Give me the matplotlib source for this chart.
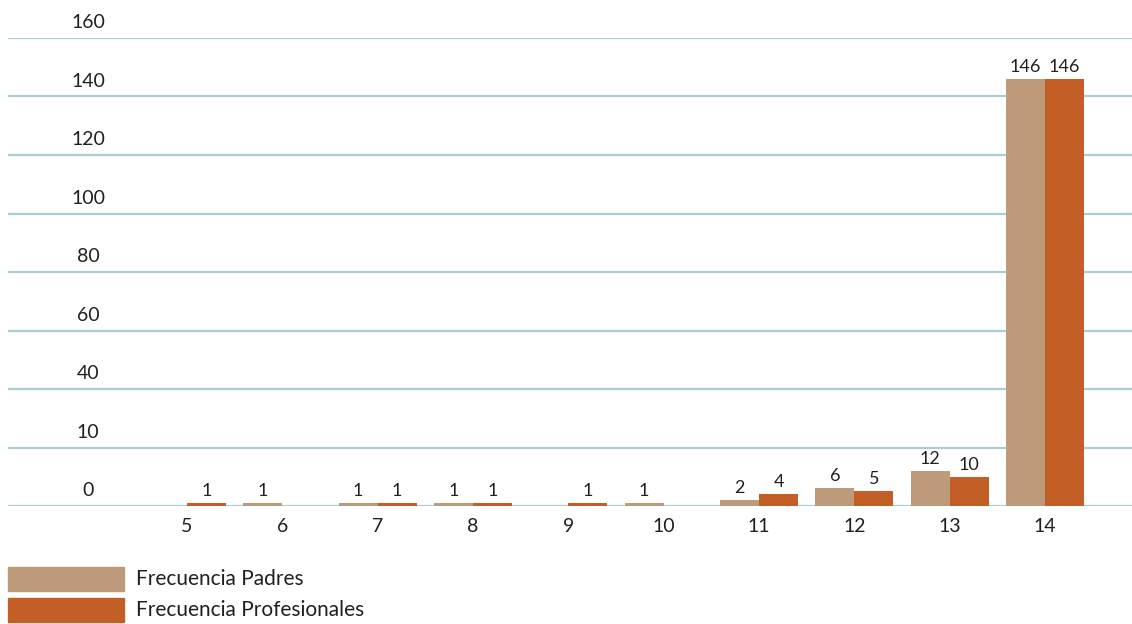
import matplotlib
matplotlib.use("Agg")
import matplotlib.pyplot as plt
import matplotlib.transforms as mtransforms
from matplotlib.patches import Rectangle
import numpy as np

categories = ["5", "6", "7", "8", "9", "10", "11", "12", "13", "14"]
padres = [0, 1, 1, 1, 0, 1, 2, 6, 12, 146]
profesionales = [1, 0, 1, 1, 1, 0, 4, 5, 10, 146]
ytick_values = [0, 20, 40, 60, 80, 100, 120, 140, 160]
ytick_labels = ["0", "10", "40", "60", "80", "100", "120", "140", "160"]
series_names = ["Frecuencia Padres", "Frecuencia Profesionales"]

c_padres = "#BD9B7A"
c_prof = "#C45E27"
grid_c = "#A8CFD6"
txt_c = "#231F20"

plt.rcParams["font.family"] = ["Lato", "DejaVu Sans"]

W, H = 1132, 624
fig = plt.figure(figsize=(W / 100, H / 100), dpi=100)
ax = fig.add_axes([8 / W, (H - 506) / H, 1 - 8 / W, (506 - 38) / H])

x = np.arange(len(categories))
bw = 0.41
ax.bar(x - bw / 2, padres, bw, color=c_padres, zorder=3)
ax.bar(x + bw / 2, profesionales, bw, color=c_prof, zorder=3)

px = 95.33
ax.set_xlim((8 - 187) / px, (1132 - 187) / px)
ax.set_ylim(0, 160)

for s in ax.spines.values():
    s.set_visible(False)
ax.set_yticks([])
ax.set_xticks(x)
ax.set_xticklabels(categories, fontsize=14, color=txt_c)
ax.tick_params(axis="x", length=0, pad=9)

for v in ytick_values:
    ax.axhline(v, color=grid_c, lw=1.6, zorder=1)

tr = mtransforms.blended_transform_factory(ax.transAxes, ax.transData)
tr = mtransforms.offset_copy(tr, fig=fig, x=0, y=5, units="points")
for v, lab in zip(ytick_values, ytick_labels):
    ax.text((88 - 8) / (W - 8), v, lab, transform=tr, ha="center", va="bottom",
            fontsize=14, color=txt_c)

for i in range(len(categories)):
    if padres[i] > 0:
        ax.annotate(str(padres[i]), (x[i] - bw / 2, padres[i]), xytext=(0, 3),
                    textcoords="offset points", ha="center", va="bottom",
                    fontsize=13, color=txt_c)
    if profesionales[i] > 0:
        ax.annotate(str(profesionales[i]), (x[i] + bw / 2, profesionales[i]), xytext=(0, 3),
                    textcoords="offset points", ha="center", va="bottom",
                    fontsize=13, color=txt_c)

# legend
for j, (name, col) in enumerate(zip(series_names, [c_padres, c_prof])):
    y0 = [567, 598][j]
    fig.patches.append(Rectangle((8 / W, (H - y0 - 24) / H), 116 / W, 24 / H,
                                 transform=fig.transFigure, color=col))
    fig.text(136 / W, (H - y0 - 12) / H, name, ha="left", va="center",
             fontsize=15, color=txt_c)

fig.savefig("out.png", dpi=100)
